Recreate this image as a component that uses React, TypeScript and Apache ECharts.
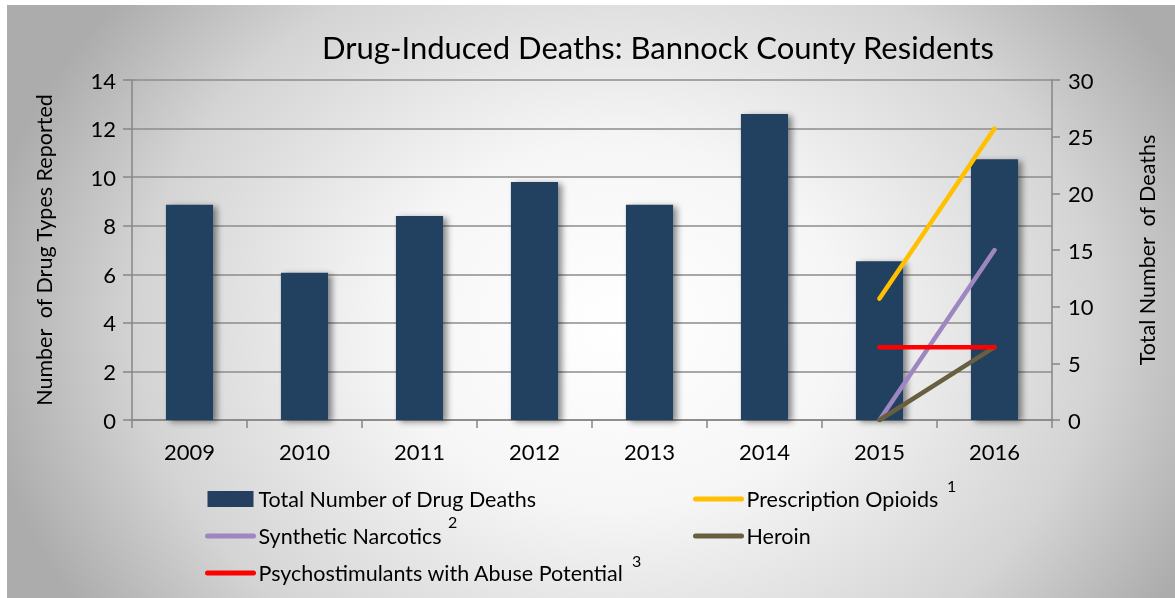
import React, { useEffect, useRef } from "react";
import * as echarts from "echarts";

const years = ["2009", "2010", "2011", "2012", "2013", "2014", "2015", "2016"];
const totalDeaths = [19, 13, 18, 21, 19, 27, 14, 23];
const prescriptionOpioids = [null, null, null, null, null, null, 5, 12];
const syntheticNarcotics = [null, null, null, null, null, null, 0, 7];
const heroin = [null, null, null, null, null, null, 0, 3];
const psychostimulants = [null, null, null, null, null, null, 3, 3];

const footnoteMarks = ["1", "2", "3"];

const FONT = "Lato";

const lineLegendItem = (name: string) => ({
  name,
  itemStyle: { color: "rgba(0,0,0,0)", borderWidth: 0, opacity: 0 },
  lineStyle: { width: 5, cap: "round" },
});

export default function App() {
  const ref = useRef<HTMLDivElement>(null);
  useEffect(() => {
    if (!ref.current) return;
    const chart = echarts.init(ref.current, null, { renderer: "svg" });
    const legendCommon = {
      orient: "vertical" as const,
      itemWidth: 46,
      itemHeight: 16,
      itemGap: 13,
      padding: 0,
      selectedMode: false,
      textStyle: { fontFamily: FONT, fontSize: 21.5, color: "#000", lineHeight: 24 },
    };
    const supStyle = { fontFamily: FONT, fontSize: 16, lineHeight: 12, fontWeight: "normal", color: "#000" };
    chart.setOption({
      animation: false,
      backgroundColor: "transparent",
      textStyle: { fontFamily: FONT },
      title: [
        {
          text: "Drug-Induced Deaths: Bannock County Residents",
          left: 310,
          top: 21,
          textStyle: { fontFamily: FONT, fontSize: 31, fontWeight: "normal", color: "#000" },
        },
        { text: footnoteMarks[0], left: 940, top: 474, padding: 0, textStyle: supStyle },
        { text: footnoteMarks[1], left: 441, top: 510, padding: 0, textStyle: supStyle },
        { text: footnoteMarks[2], left: 625, top: 549, padding: 0, textStyle: supStyle },
      ],
      legend: [
        {
          ...legendCommon,
          left: 198,
          top: 482,
          data: [
            { name: "Total Number of Drug Deaths", icon: "rect" },
            lineLegendItem("Synthetic Narcotics"),
            lineLegendItem("Psychostimulants with Abuse Potential"),
          ],
        },
        {
          ...legendCommon,
          left: 686,
          top: 482,
          data: [lineLegendItem("Prescription Opioids"), lineLegendItem("Heroin")],
        },
      ],
      grid: { left: 125, right: 123, top: 75, bottom: 178 },
      xAxis: {
        type: "category",
        data: years,
        axisLine: { lineStyle: { color: "#868686", width: 1.5 } },
        axisTick: { show: true, length: 8, lineStyle: { color: "#868686", width: 1.5 } },
        axisLabel: { fontFamily: FONT, fontSize: 22, color: "#000", margin: 20 },
      },
      yAxis: [
        {
          type: "value",
          min: 0,
          max: 14,
          interval: 2,
          name: "Number  of Drug Types Reported",
          nameLocation: "middle",
          nameRotate: 90,
          nameGap: 77,
          nameTextStyle: { fontFamily: FONT, fontSize: 21.5, color: "#000" },
          axisLine: { show: true, lineStyle: { color: "#868686", width: 1.5 } },
          axisTick: { show: true, length: 9, lineStyle: { color: "#868686", width: 1.5 } },
          axisLabel: { fontFamily: FONT, fontSize: 22, color: "#000", margin: 16 },
          splitLine: { show: true, lineStyle: { color: "#8c8c8c", width: 1.5 } },
        },
        {
          type: "value",
          min: 0,
          max: 30,
          interval: 5,
          position: "right",
          name: "Total Number  of Deaths",
          nameLocation: "middle",
          nameRotate: 90,
          nameGap: 84,
          nameTextStyle: { fontFamily: FONT, fontSize: 21.5, color: "#000" },
          axisLine: { show: true, lineStyle: { color: "#868686", width: 1.5 } },
          axisTick: { show: true, length: 8, lineStyle: { color: "#868686", width: 1.5 } },
          axisLabel: { fontFamily: FONT, fontSize: 22, color: "#000", margin: 16 },
          splitLine: { show: false },
        },
      ],
      series: [
        {
          name: "Total Number of Drug Deaths",
          type: "bar",
          yAxisIndex: 1,
          data: totalDeaths,
          barWidth: "41%",
          itemStyle: {
            color: "#243F60",
            shadowBlur: 6,
            shadowOffsetX: 4,
            shadowOffsetY: 2,
            shadowColor: "rgba(0,0,0,0.45)",
          },
        },
        {
          name: "Prescription Opioids",
          type: "line",
          yAxisIndex: 0,
          data: prescriptionOpioids,
          symbol: "none",
          color: "#FFC000",
          lineStyle: { width: 4.5, cap: "round", color: "#FFC000" },
        },
        {
          name: "Synthetic Narcotics",
          type: "line",
          yAxisIndex: 0,
          data: syntheticNarcotics,
          symbol: "none",
          color: "#9E86C0",
          lineStyle: { width: 4.5, cap: "round", color: "#9E86C0" },
        },
        {
          name: "Heroin",
          type: "line",
          yAxisIndex: 0,
          data: heroin,
          symbol: "none",
          color: "#675F3F",
          lineStyle: { width: 4.5, cap: "round", color: "#675F3F" },
        },
        {
          name: "Psychostimulants with Abuse Potential",
          type: "line",
          yAxisIndex: 0,
          data: psychostimulants,
          symbol: "none",
          color: "#FF0000",
          lineStyle: { width: 4.5, cap: "round", color: "#FF0000" },
        },
      ],
    });
    return () => chart.dispose();
  }, []);
  return (
    <div
      style={{
        position: "fixed",
        left: 7,
        top: 5,
        width: 1168,
        height: 593,
        background:
          "radial-gradient(ellipse 640px 520px at 610px 320px, #ffffff 0%, #f6f6f6 35%, #d4d4d4 75%, #acacac 100%)",
      }}
    >
      <div ref={ref} style={{ width: 1168, height: 593 }} />
    </div>
  );
}
